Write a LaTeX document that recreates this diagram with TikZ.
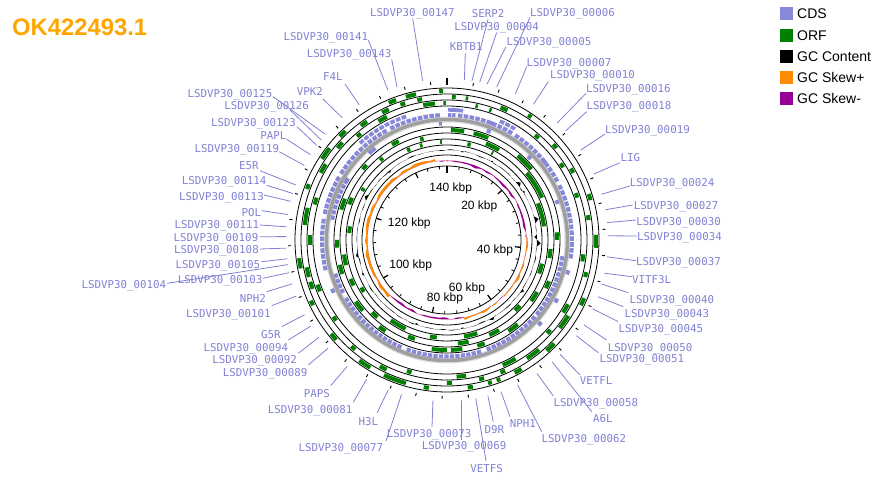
\documentclass[tikz,border=0pt]{standalone}
\usepackage{fontspec}
\setmainfont{Liberation Sans}
\newfontfamily\labfont{DejaVu Sans Mono}
\definecolor{cdsc}{RGB}{136,136,216}
\definecolor{labc}{RGB}{128,128,212}
\definecolor{orfc}{RGB}{0,128,0}
\definecolor{skp}{RGB}{255,140,0}
\definecolor{skm}{RGB}{150,0,150}
\definecolor{titlec}{RGB}{255,165,0}
\newcommand\sect[5]{\fill[#5] ({90-(#1)}:#4pt) arc[start angle={90-(#1)}, end angle={90-(#2)}, radius=#4pt] -- ({90-(#2)}:#3pt) arc[start angle={90-(#2)}, end angle={90-(#1)}, radius=#3pt] -- cycle;}
\newcommand\cdsrun[4]{\pgfmathsetmacro\nxt{#1+2.7}\foreach \t in {#1,\nxt,...,#2}{\sect{\t}{\t+2.1}{#3}{#4}{cdsc}}}
\begin{document}
\begin{tikzpicture}[x=1pt,y=1pt,
  declare function={
    tri(\x,\c,\w)=max(0,1-abs(\x-\c)/\w);
    gcc(\x)=0.35*sin(11*\x)+0.3*sin(29*\x+30)+0.25*sin(43*\x)
      +3*tri(\x,52,2)+2.5*tri(\x,58,1.5)+3*tri(\x,77,2)+4*tri(\x,92,2.5)+3*tri(\x,124,2)
      +2.5*tri(\x,150,2)+1.5*tri(\x,30,1.5)+2.5*tri(\x,260,2)+3*tri(\x,298,2)+2*tri(\x,248,1.5)
      -2.5*tri(\x,88,1.5)-2*tri(\x,200,1.5)-1.5*tri(\x,320,1.5)-1.5*tri(\x,10,1.5)-1.5*tri(\x,170,1.5);
    skw(\x)=-1.3*(\x<88)+1.2*(\x>=88)*(\x<135)+1.6*(\x>=148)*(\x<168)-1.2*(\x>=168)*(\x<226)+2.2*(\x>=226)*(\x<352)
      +0.5*sin(13*\x+10)+0.4*sin(31*\x)+0.3*sin(43*\x+50);
  },
  ring/.style={draw=black, line width=0.8pt},
  lab/.style={text=labc, font=\labfont\fontsize{10.8}{12}\selectfont, inner sep=0pt, anchor=base},
  leader/.style={draw=labc, line width=0.8pt},
  sclab/.style={font=\fontsize{12}{14}\selectfont, inner sep=0pt, anchor=base},
  legt/.style={font=\fontsize{14}{16}\selectfont, inner sep=0pt, anchor=base west}]
\useasboundingbox (-447,-241) rectangle (432,240);

% backbone
\draw[line width=6pt, gray!25] (0,0) circle[radius=120.5pt];
\draw[line width=3.5pt, gray!75] (0,0) circle[radius=120.5pt];

% ring circles
\foreach \r in {152,146,140,134,113,107,101,95,85,74}{\draw[ring] (0,0) circle[radius=\r pt];}

% ORF rings (outer)
\foreach \a/\b in {-3/-1.5, -16/-12, -23/-20, -46/-43, -57/-52, -70/-68, 33/34.5, 72/74.5, 88/93, 113/116, 134/138, 150/153, 159/160.5, 162.5/164, 170/172, 187/189, 196/205, 211/216, 228/231, 244/246, 259/263}{\sect{\a}{\b}{147}{151}{orfc}}
\foreach \a/\b in {-19/-17, -12/-10, 2/3.5, 7.5/8.5, -27/-24, -37/-34, -50/-47, -62/-58, -84/-77, -105/-101, 22/25, 48/50, 60/62, 80/82, 103/105, 122/128, 140/146, 156/158, 165/167, 178/180, 205/208, 220/222, 250/253}{\sect{\a}{\b}{141}{145}{orfc}}
\foreach \a/\b in {-10/-5, -1.5/-0.5, -30/-26, -41/-39, -75/-72, -92/-90, -112/-109, 12/13, 18/19, 40/42, 56/58, 70/72, 96/99, 118/122, 131/133, 150/156, 172/176, 195/197, 234/236, 268/272}{\sect{\a}{\b}{135}{139}{orfc}}
% ORF rings (inner)
\foreach \a/\b in {2/9, 14/22, 40/50, 86/90, 112/116, 140/146, 160/164, 172/178, 180/188, 214/218, 230/236, 252/257, 266/270, 286/292, 310/313, 330/334}{\sect{\a}{\b}{108}{112}{orfc}}
\foreach \a/\b in {22/30, 50/66, 95/100, 120/126, 150/156, 168/174, 198/202, 222/226, 244/248, 256/262, 290/294, 320/322, 345/347}{\sect{\a}{\b}{102}{106}{orfc}}
\foreach \a/\b in {-4/-3, -16/-14.5, 12/14, 27/28, 68/82, 104/110, 132/136, 162/170, 186/190, 205/215, 238/241, 274/278, 300/302, 336/338}{\sect{\a}{\b}{96}{100}{orfc}}

% CDS forward
\foreach \a/\b in {5/30,33/62,64/97,256/280,282/300,302/330,333/356}{\cdsrun{\a}{\b}{123}{127}}
\foreach \a/\b in {0.5/2, 2.4/3.9, 20/22, 50/52, 104/106, 118/120, 131/133, 245/247}{\sect{\a}{\b}{123}{127}{cdsc}}
\foreach \a/\b in {0.5/2, 2.3/3.8, 318/340, 24/30}{\cdsrun{\a}{\b}{128.3}{132}}
% CDS reverse
\foreach \a/\b in {98/128,131/160,163/200,203/240,243/252,280/300}{\cdsrun{\a}{\b}{114.5}{118.5}}
\foreach \a/\b in {-60/-58,-40/-38,20/22,44/46,70/72,318/320,356/357.5}{\sect{\a}{\b}{114.5}{118.5}{cdsc}}

% GC content
\fill[black] plot[domain=0:360,samples=721] ({90-\x}:{90+gcc(\x)}) -- (-270:90pt) arc[start angle=-270,end angle=90,radius=90pt] -- cycle;
% GC skew
\fill[skp] plot[domain=0:360,samples=721] ({90-\x}:{79.5+max(skw(\x),0)}) -- (-270:79.5pt) arc[start angle=-270,end angle=90,radius=79.5pt] -- cycle;
\fill[skm] plot[domain=0:360,samples=721] ({90-\x}:{79.5+min(skw(\x),0)}) -- (-270:79.5pt) arc[start angle=-270,end angle=90,radius=79.5pt] -- cycle;

% outer ticks
\foreach \k in {4,8,...,148}{\draw[line width=0.9pt] ({90-\k*2.392}:156pt) -- ({90-\k*2.392}:159pt);}
\draw[line width=2pt] (90:155pt) -- (90:162pt);
% inner ruler
\foreach \k in {4,8,...,148}{\draw[line width=0.8pt] ({90-\k*2.392}:74pt) -- ({90-\k*2.392}:71pt);}
\foreach \k in {20,40,...,140}{\draw[line width=1.2pt] ({90-\k*2.392}:74pt) -- ({90-\k*2.392}:68.5pt);}
\draw[line width=2pt] (90:74pt) -- (90:67pt);
\foreach \n/\t/\x/\y in {k140/140 kbp/450.7/187.3, k20/20 kbp/479.3/205, k120/120 kbp/409.3/222.7, k40/40 kbp/495/249.3, k100/100 kbp/410.7/264, k60/60 kbp/467/287, k80/80 kbp/445/297}{\node[sclab] (\n) at ({\x-447},{240-\y-4.3}) {\t};}

% feature labels
\foreach \i/\txt/\tx/\ty/\sx/\sy/\ang in {
1/LSDVP30\_00147/412.3/12.3/412.7/18.5/351.3,
2/SERP2/488.2/13.3/488/19.5/8.9,
3/LSDVP30\_00006/572.5/12.3/530/17.5/18,
4/LSDVP30\_00004/496.7/26.7/496.7/32.5/11.7,
5/KBTB1/466.2/46.7/465.3/53/6.2,
6/LSDVP30\_00141/325.8/36.7/368.3/40/338.5,
7/LSDVP30\_00143/349.2/53.3/391.7/59.3/341.9,
8/LSDVP30\_00005/549/41.7/506/46.7/14.4,
9/LSDVP30\_00007/569/62.7/526.7/66.7/25.1,
10/LSDVP30\_00010/592.5/75/548.3/81.7/32.5,
11/F4L/333/76.7/345/84/327,
12/LSDVP30\_00016/628.3/88.3/586/93.3/43.3,
13/VPK2/310/92/323/99/319.4,
14/LSDVP30\_00125/230/93.3/273/96.7/311,
15/LSDVP30\_00126/266.7/106/290/110/308.5,
16/LSDVP30\_00018/629/106/586.7/111.7/47.4,
17/LSDVP30\_00123/253.5/122.3/297/126.7/306,
18/LSDVP30\_00019/647.5/129.3/605/134/56.1,
19/PAPL/273.5/136/286.7/139.3/302,
20/LSDVP30\_00119/236.8/148.3/279.3/151.7/297.6,
21/LIG/630.3/157.3/620/162.7/65.8,
22/E5R/249/166/260/170.7/290,
23/LSDVP30\_00114/224.2/180.7/266.7/185.3/286.8,
24/LSDVP30\_00024/672.2/182.3/630/186/73.5,
25/LSDVP30\_00113/221.5/196.7/264/195/283.9,
26/LSDVP30\_00027/676.2/206/632.7/205/79.2,
27/POL/251.5/212.3/261.7/210.7/279.1,
28/LSDVP30\_00030/678.7/221.3/636/220/83.8,
29/LSDVP30\_00111/216.8/225/260/225/274.7,
30/LSDVP30\_00034/679.5/236.7/636.7/236/88.5,
31/LSDVP30\_00109/216/237.3/260/236.7/271.2,
32/LSDVP30\_00108/216.5/250/260/249/267.1,
33/LSDVP30\_00105/217.8/264.3/261.7/261.7/263.3,
34/LSDVP30\_00037/678.5/261.7/636/260.7/96,
35/LSDVP30\_00103/220.2/280/262.7/278.3/258.3,
36/VITF3L/651.7/280/631.7/276.7/101.9,
37/LSDVP30\_00104/123.8/285/167.3/283.3/261.2,
38/NPH2/253/298.3/266.7/291.7/254.2,
39/LSDVP30\_00040/671.8/300/628.3/292.7/105.9,
40/LSDVP30\_00101/228.3/313.3/271.7/305.7/249.6,
41/LSDVP30\_00043/666.8/314/623.3/306.7/110.6,
42/LSDVP30\_00045/660.8/328.3/618.3/321.7/115.3,
43/G5R/270.8/334.3/281.7/326.7/242.3,
44/LSDVP30\_00094/245.8/347.7/288.3/340/237.7,
45/LSDVP30\_00050/650.2/347.3/606.7/340/121.8,
46/LSDVP30\_00092/254.7/360/298.3/353.3/232.8,
47/LSDVP30\_00051/641.8/359/598.3/352.7/126.5,
48/LSDVP30\_00089/265.2/372.7/308.3/365/227.7,
49/VETFL/596.2/380.7/580/375/135.3,
50/PAPS/317/393.3/330.7/385.7/218.3,
51/LSDVP30\_00058/595.8/402.7/553.3/396/146,
52/LSDVP30\_00081/310.2/410/353.3/402.3/210,
53/A6L/602.8/418.3/591.7/411.7/139.2,
54/H3L/368.3/421.7/377/413/201.4,
55/NPH1/523/424/510/416.7/160.4,
56/D9R/494.5/429.3/493.3/421.7/165.3,
57/LSDVP30\_00073/429.2/433.3/432/427/185,
58/LSDVP30\_00062/583.8/438.3/541.7/431.7/154,
59/LSDVP30\_00077/340.8/448/386/441/196.4,
60/LSDVP30\_00069/464.2/446/461.5/440/174.8,
61/VETFS/486.7/468.3/486/461/169.7}{
  \node[lab] (L\i) at ({\tx-447},{240-\ty-3.9}) {\txt};
  \coordinate (s\i) at ({\sx-447},{240-\sy});
  \coordinate (e\i) at ({90-\ang}:161pt);
  \draw[leader] (s\i) -- (e\i);
}

% title
\node[anchor=base west, font=\bfseries\fontsize{23.8}{26}\selectfont, text=titlec, inner sep=0pt] (title) at ({12-447},{240-36}) {OK422493.1};

% legend
\foreach \i/\c/\t/\y in {1/cdsc/CDS/14, 2/orfc/ORF/35.5, 3/black/GC Content/57, 4/skp/GC Skew+/78, 5/skm/GC Skew-/99}{
  \node[fill=\c, minimum size=13pt, inner sep=0pt] (lb\i) at ({786.5-447},{240-\y}) {};
  \node[legt] (lt\i) at ({797-447},{240-\y-5}) {\t};
}
\end{tikzpicture}
\end{document}
